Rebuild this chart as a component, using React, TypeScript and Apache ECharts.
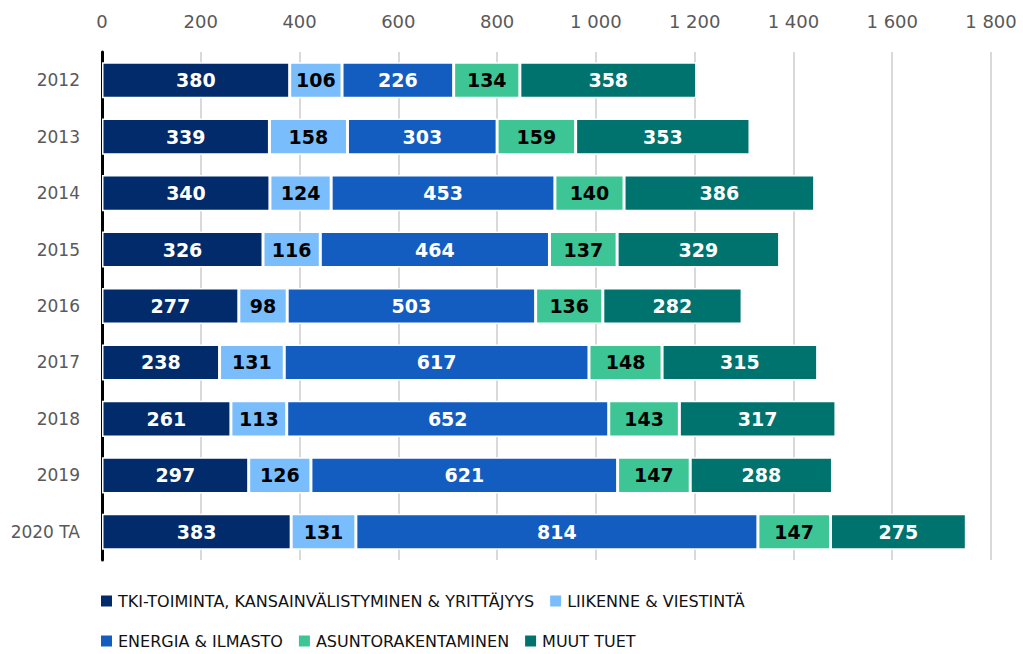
import React, { useEffect, useRef } from "react";
import * as echarts from "echarts";

const categories = ["2012", "2013", "2014", "2015", "2016", "2017", "2018", "2019", "2020 TA"];
const seriesNames = [
  "TKI-TOIMINTA, KANSAINVÄLISTYMINEN & YRITTÄJYYS",
  "LIIKENNE & VIESTINTÄ",
  "ENERGIA & ILMASTO",
  "ASUNTORAKENTAMINEN",
  "MUUT TUET",
];
const tki = [380, 339, 340, 326, 277, 238, 261, 297, 383];
const liikenne = [106, 158, 124, 116, 98, 131, 113, 126, 131];
const energia = [226, 303, 453, 464, 503, 617, 652, 621, 814];
const asunto = [134, 159, 140, 137, 136, 148, 143, 147, 147];
const muut = [358, 353, 386, 329, 282, 315, 317, 288, 275];

const colors = ["#012B6A", "#79BDFD", "#135CC0", "#3DC596", "#00736F"];
const labelColors = ["#ffffff", "#000000", "#ffffff", "#000000", "#ffffff"];
const FONT = "'DejaVu Sans', sans-serif";

export default function App() {
  const ref = useRef<HTMLDivElement>(null);
  useEffect(() => {
    if (!ref.current) return;
    const chart = echarts.init(ref.current, undefined, { renderer: "svg" });
    const values = [tki, liikenne, energia, asunto, muut];
    const legendBase = {
      left: 99,
      padding: 0,
      icon: "rect",
      itemWidth: 13,
      itemHeight: 13,
      itemGap: 14,
      textStyle: { fontFamily: FONT, fontSize: 16, color: "#111" },
    };
    const option: any = {
      animation: false,
      textStyle: { fontFamily: FONT },
      grid: { left: 102, right: 32, top: 52, height: 508 },
      legend: [
        { ...legendBase, data: seriesNames.slice(0, 2), top: 593 },
        { ...legendBase, data: seriesNames.slice(2), top: 633 },
      ],
      xAxis: {
        type: "value",
        position: "top",
        min: 0,
        max: 1800,
        interval: 200,
        axisLine: { show: false },
        axisTick: { show: false },
        splitLine: { show: true, lineStyle: { color: "#d9d9d9", width: 2 } },
        axisLabel: {
          margin: 22,
          fontFamily: FONT,
          fontSize: 18,
          color: "#595959",
          formatter: (v: number) => String(v).replace(/\B(?=(\d{3})+(?!\d))/g, " "),
        },
      },
      yAxis: {
        type: "category",
        inverse: true,
        data: categories,
        axisLine: { show: true, lineStyle: { color: "#000", width: 3 } },
        axisTick: { show: false },
        axisLabel: { margin: 22, fontFamily: FONT, fontSize: 17, color: "#595959" },
      },
      series: seriesNames.map((name, i) => ({
        name,
        type: "bar",
        stack: "total",
        barCategoryGap: "36%",
        data: values[i],
        itemStyle: { color: colors[i], borderColor: "#fff", borderWidth: 1.5 },
        label: {
          show: true,
          position: "inside",
          fontFamily: FONT,
          fontWeight: "bold",
          fontSize: 19,
          color: labelColors[i],
        },
      })),
    };
    chart.setOption(option);
    return () => chart.dispose();
  }, []);
  return (
    <div
      ref={ref}
      style={{ position: "absolute", left: 0, top: 0, width: 1023, height: 654 }}
    />
  );
}
